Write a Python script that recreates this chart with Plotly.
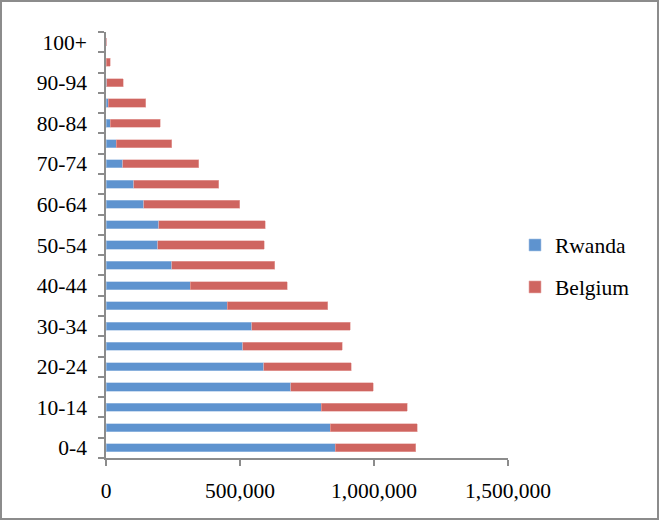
import plotly.graph_objects as go

age_groups = ["0-4", "5-9", "10-14", "15-19", "20-24", "25-29", "30-34", "35-39",
              "40-44", "45-49", "50-54", "55-59", "60-64", "65-69", "70-74", "75-79",
              "80-84", "85-89", "90-94", "95-99", "100+"]
rwanda = [856000, 836000, 804000, 690000, 588000, 511000, 543000, 453000,
          314000, 246000, 193000, 196000, 140000, 103000, 63000, 38000,
          16000, 9000, 2000, 500, 200]
belgium = [299000, 325000, 320000, 307000, 327000, 370000, 368000, 375000,
           363000, 384000, 398000, 398000, 359000, 318000, 283000, 208000,
           187000, 140000, 62000, 15500, 1500]
tick_labels = [g if i % 2 == 0 else "" for i, g in enumerate(age_groups)]

FONT = "Liberation Serif, Times New Roman, serif"

fig = go.Figure()
fig.add_trace(go.Bar(y=age_groups, x=rwanda, orientation="h", name="Rwanda",
                     marker=dict(color="#5E93CF", line=dict(color="#A9C4E6", width=0.6)),
                     legendgroup="r"))
fig.add_trace(go.Bar(y=age_groups, x=belgium, orientation="h", name="Belgium",
                     marker=dict(color="#CF6560", line=dict(color="#E8AAA7", width=0.6)),
                     legendgroup="b"))

L, R, T, B = 106, 151, 32, 62
W, H = 659, 520
pw, ph = W - L - R, H - T - B

fig.update_layout(
    width=W, height=H,
    margin=dict(l=L, r=R, t=T, b=B, autoexpand=False),
    barmode="stack", bargap=0.6,
    paper_bgcolor="white", plot_bgcolor="white",
    font=dict(family=FONT, size=21.5, color="black"),
    legend=dict(x=(515 - L) / pw, y=(H - B - 266) / ph, xanchor="left", yanchor="middle",
                traceorder="grouped", tracegroupgap=11, font=dict(size=21.5),
                itemwidth=30),
    showlegend=True,
    xaxis=dict(range=[0, 1500000], tickvals=[0, 500000, 1000000, 1500000],
               tickformat=",", showgrid=False, zeroline=False,
               showline=True, linecolor="#8C8C8C", linewidth=1.5,
               ticks="outside", ticklen=6, tickcolor="#8C8C8C", tickwidth=1.5,
               ticklabelstandoff=6,
               tickfont=dict(size=21.5)),
    yaxis=dict(type="category", categoryorder="array", categoryarray=age_groups,
               tickvals=age_groups, ticktext=tick_labels, tickson="boundaries",
               showgrid=False, zeroline=False,
               showline=True, linecolor="#8C8C8C", linewidth=1.5,
               ticks="outside", ticklen=6, tickcolor="#8C8C8C", tickwidth=1.5,
               ticklabelstandoff=13,
               tickfont=dict(size=21.5), range=[-0.5, 20.5]),
    shapes=[dict(type="rect", xref="paper", yref="paper",
                 x0=(1 - L) / pw, x1=(658 - L) / pw,
                 y0=(H - B - 519) / ph, y1=(H - B - 1) / ph,
                 line=dict(color="#8C8C8C", width=2), fillcolor="rgba(0,0,0,0)")],
)

fig.write_html("out.html", config={"displayModeBar": False},
               post_script="document.body.style.margin='0';")
